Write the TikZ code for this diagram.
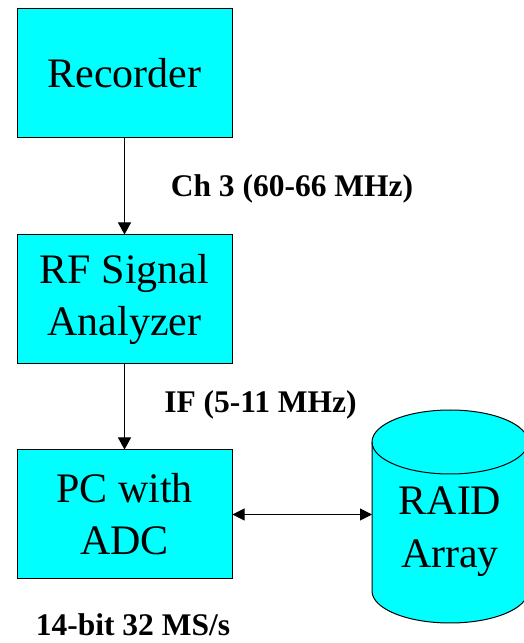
\documentclass[tikz,border=0pt]{standalone}
\usepackage{fontspec}
\setmainfont{Liberation Serif}
\usetikzlibrary{arrows.meta}
\definecolor{boxcyan}{RGB}{0,255,255}
\begin{document}
\begin{tikzpicture}[x=1pt,y=1pt,
  block/.style={draw=black, line width=1pt, fill=boxcyan, minimum width=215pt, minimum height=129pt, inner sep=0pt, align=center, font=\fontsize{42}{52}\selectfont},
  lbl/.style={font=\fontsize{31.5}{36}\selectfont\bfseries, anchor=base, inner sep=0pt},
  conn/.style={line width=1pt, -{Triangle[length=12pt,width=13pt]}},
  biconn/.style={line width=1pt, {Triangle[length=12pt,width=12pt]}-{Triangle[length=12pt,width=12pt]}}
]
\useasboundingbox (0,0) rectangle (523,643);
\node[block] (rec) at (124.5,570) {Recorder};
\node[block] (rf) at (124.5,343.5) {RF Signal\\Analyzer};
\node[block] (pc) at (124.5,128.5) {PC with\\ADC};
% cylinder
\fill[boxcyan] (372,201) -- (372,52) arc[start angle=180,end angle=360,x radius=78,y radius=32] -- (528,201) arc[start angle=0,end angle=180,x radius=78,y radius=32] -- cycle;
\draw[line width=1pt] (372,201) -- (372,52) arc[start angle=180,end angle=360,x radius=78,y radius=32] -- (528,201) arc[start angle=0,end angle=180,x radius=78,y radius=32];
\draw[line width=1pt] (372,201) arc[start angle=180,end angle=360,x radius=78,y radius=32];
\node[align=center, inner sep=0pt, font=\fontsize{42}{53}\selectfont] (raid) at (450,111) {RAID\\Array};
\coordinate (raidl) at (372,128.5);
\draw[conn] (rec.south) -- (rf.north);
\draw[conn] (rf.south) -- (pc.north);
\draw[biconn] (pc.east) -- (raidl);
\node[lbl] (l1) at (292,446) {Ch 3 (60-66 MHz)};
\node[lbl] (l2) at (260.5,230) {IF (5-11 MHz)};
\node[lbl] (l3) at (133,8) {14-bit 32 MS/s};
\end{tikzpicture}
\end{document}
